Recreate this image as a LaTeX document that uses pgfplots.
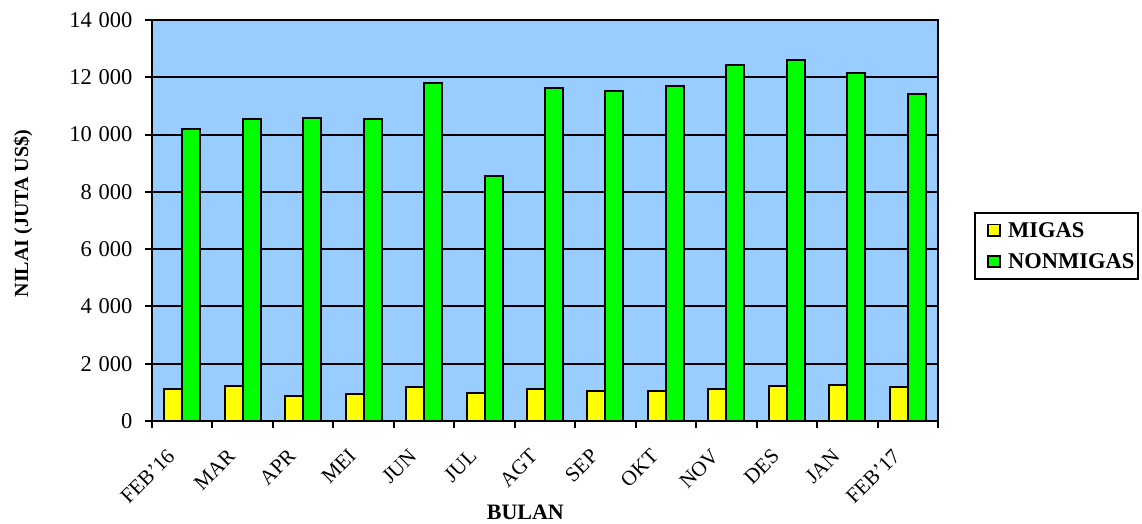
\documentclass[border=0pt]{standalone}
\usepackage{fontspec}
\setmainfont{Liberation Serif}
\usepackage{pgfplots}
\pgfplotsset{compat=1.18}
\definecolor{bgblue}{HTML}{99CCFF}
\definecolor{ylw}{HTML}{FFFF00}
\definecolor{grn}{HTML}{00FF00}
\pgfplotstableread{
x migas nonmigas
0 1110 10200
1 1225 10560
2 875 10585
3 935 10560
4 1180 11785
5 990 8545
6 1130 11610
7 1050 11515
8 1045 11690
9 1110 12415
10 1235 12590
11 1260 12145
12 1190 11410
}\datatable
\begin{document}
\begin{tikzpicture}
\useasboundingbox (0,0) rectangle (1142pt,524pt);
\begin{axis}[
  at={(152pt,103pt)}, anchor=south west,
  scale only axis, width=786pt, height=401pt,
  xmin=-0.5, xmax=12.5, ymin=0, ymax=14000,
  ytick={0,2000,...,14000},
  scaled y ticks=false,
  xtick={0,...,12},
  xticklabels={FEB'16,MAR,APR,MEI,JUN,JUL,AGT,SEP,OKT,NOV,DES,JAN,FEB'17},
  minor xtick={-0.5,0.5,...,12.5},
  major x tick style={draw=none},
  tick align=outside,
  major tick length=7pt, minor tick length=7pt,
  tick style={black, line width=2pt},
  xtick pos=bottom, ytick pos=left,
  axis line style={black, line width=2.4pt},
  axis background/.style={fill=bgblue},
  ymajorgrids, grid style={black, line width=2pt},
  /pgf/number format/assume math mode=true,
  /pgf/number format/1000 sep={\hspace{0.3em}},
  yticklabel style={font=\fontsize{22.5}{25}\selectfont, xshift=-9pt},
  xticklabel style={font=\fontsize{21}{24}\selectfont, rotate=45, anchor=north east, xshift=-22pt, yshift=1pt},
  xlabel={BULAN}, ylabel={NILAI (JUTA US\$)},
  xlabel style={font=\fontsize{22}{24}\selectfont\bfseries, at={(axis description cs:0.475,-0.228)}, anchor=center},
  ylabel style={font=\fontsize{20}{22}\selectfont\bfseries, at={(axis description cs:-0.164,0.517)}, anchor=center},
  ybar=0pt, bar width=18pt,
  every axis plot/.append style={draw=black, line width=2pt},
  legend style={at={(axis description cs:1.0458,0.436)}, anchor=west,
    draw=black, line width=2pt, font=\fontsize{22.5}{25}\selectfont\bfseries,
    inner xsep=2pt, inner ysep=7pt, row sep=11pt, cells={anchor=west}},
  legend image code/.code={\path (0pt,0pt) (27pt,0pt); \draw[#1, line width=1.8pt] (10pt,-5.5pt) rectangle (22pt,6pt);},
]
\addplot[fill=ylw] table[x=x,y=migas]{\datatable};
\addplot[fill=grn] table[x=x,y=nonmigas]{\datatable};
\legend{MIGAS,NONMIGAS}
\end{axis}
\end{tikzpicture}
\end{document}
